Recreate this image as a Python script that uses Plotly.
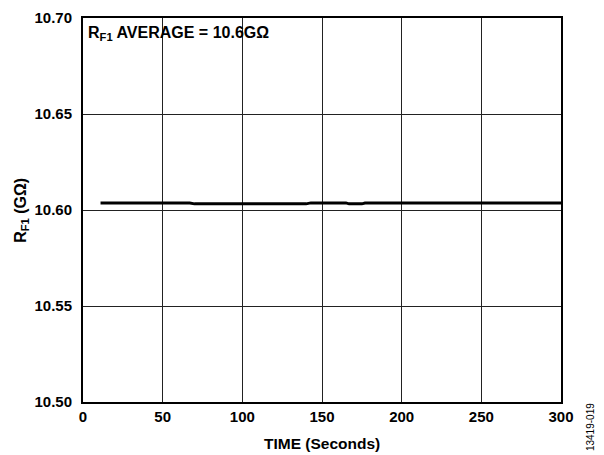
import plotly.graph_objects as go

# Time (seconds) and R_F1 (GΩ)
time_s = [11, 20, 30, 40, 48, 50, 52, 55, 60, 67, 70, 80, 90, 100, 110, 120, 130, 140,
          143, 150, 160, 165, 167, 175, 177, 185, 200, 220, 238, 240, 242, 250, 260, 270,
          280, 283, 290, 300]
r_f1 = [10.6036, 10.6036, 10.6036, 10.6036, 10.6037, 10.6039, 10.6038, 10.6037, 10.6036,
        10.6036, 10.6032, 10.6032, 10.6032, 10.6032, 10.6032, 10.6032, 10.6032, 10.6032,
        10.6037, 10.6038, 10.6038, 10.6037, 10.6032, 10.6032, 10.6036, 10.6036, 10.6036,
        10.6036, 10.6036, 10.6033, 10.6033, 10.6033, 10.6033, 10.6033, 10.6033, 10.6036,
        10.6036, 10.6036]

x_ticks = [0, 50, 100, 150, 200, 250, 300]
y_ticks = [10.50, 10.55, 10.60, 10.65, 10.70]

font = "Liberation Sans, Arial, sans-serif"

fig = go.Figure()
fig.add_trace(go.Scatter(x=time_s, y=r_f1, mode="lines",
                         line=dict(color="black", width=3), showlegend=False))

fig.update_layout(
    width=596, height=447,
    margin=dict(l=75, r=43, t=10, b=53),
    paper_bgcolor="white", plot_bgcolor="white",
    font=dict(family=font, size=15, color="black"),
    xaxis=dict(range=[0, 300], tickvals=x_ticks, ticktext=[str(v) for v in x_ticks],
               automargin=False,
               showgrid=True, gridcolor="#222", gridwidth=1,
               showline=True, linecolor="black", linewidth=2, mirror=True,
               zeroline=False, ticks="inside", ticklen=4, tickcolor="#222",
               ticklabelstandoff=0,
               tickfont=dict(family=font, size=15, color="black", weight="bold")),
    yaxis=dict(range=[10.50, 10.70], tickvals=y_ticks,
               ticktext=["%.2f" % v for v in y_ticks],
               automargin=False,
               showgrid=True, gridcolor="#222", gridwidth=1,
               showline=True, linecolor="black", linewidth=2, mirror=True,
               zeroline=False, ticks="inside", ticklen=4, tickcolor="#222",
               ticklabelstandoff=6,
               tickfont=dict(family=font, size=15, color="black", weight="bold")),
    annotations=[
        dict(text="<b>R<sub>F1</sub> AVERAGE = 10.6GΩ</b>", xref="paper", yref="paper",
             x=0.006, y=0.96, xanchor="left", yanchor="middle", showarrow=False,
             font=dict(family=font, size=16, color="black")),
        dict(text="<b>TIME (Seconds)</b>", xref="paper", yref="paper",
             x=0.5, y=-0.107, xanchor="center", yanchor="middle", showarrow=False,
             font=dict(family=font, size=15.5, color="black")),
        dict(text="<b>R<sub>F1</sub> (GΩ)</b>", xref="paper", yref="paper",
             x=-0.13, y=0.5, xanchor="center", yanchor="middle", textangle=-90,
             showarrow=False, font=dict(family=font, size=16, color="black")),
        dict(text="13419-019", xref="paper", yref="paper", x=1.063, y=-0.065,
             xanchor="center", yanchor="middle", textangle=-90, showarrow=False,
             font=dict(family=font, size=10, color="black")),
    ],
)

fig.write_html("out.html")
